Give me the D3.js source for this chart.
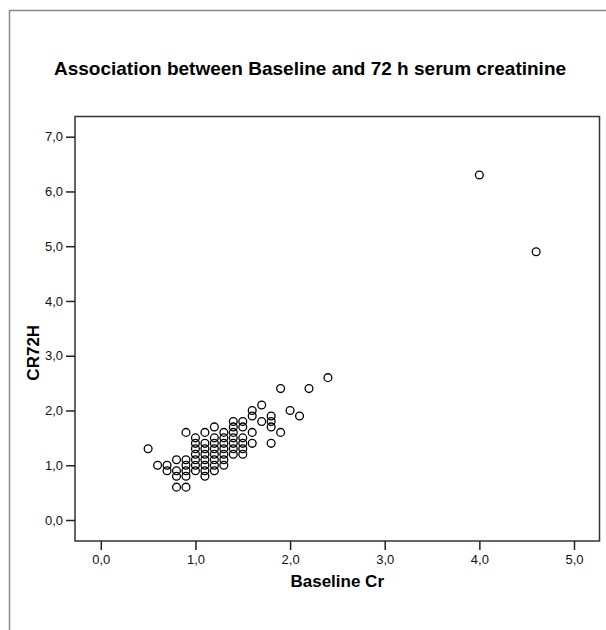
<!DOCTYPE html>
<html>
<head>
<meta charset="utf-8">
<script src="https://cdn.jsdelivr.net/npm/d3@7"></script>
<style>
  html, body { margin: 0; padding: 0; background: #fff; }
  svg { display: block; }
  text { font-family: "Liberation Sans", Arial, sans-serif; }
</style>
</head>
<body>
<svg id="chart" width="606" height="630"></svg>
<script>
// ---- Data ----
const title = "Association between Baseline and 72 h serum creatinine";
const xLabel = "Baseline Cr";
const yLabel = "CR72H";
const xTicks = [0, 1, 2, 3, 4, 5];
const yTicks = [0, 1, 2, 3, 4, 5, 6, 7];

// Baseline Cr values and matching 72 h creatinine values
const baselineCr = [
  0.5,
  0.6,
  0.7, 0.7,
  0.8, 0.8, 0.8, 0.8,
  0.9, 0.9, 0.9, 0.9, 0.9, 0.9,
  1.0, 1.0, 1.0, 1.0, 1.0, 1.0, 1.0,
  1.1, 1.1, 1.1, 1.1, 1.1, 1.1, 1.1, 1.1,
  1.2, 1.2, 1.2, 1.2, 1.2, 1.2, 1.2, 1.2,
  1.3, 1.3, 1.3, 1.3, 1.3, 1.3, 1.3,
  1.4, 1.4, 1.4, 1.4, 1.4, 1.4, 1.4,
  1.5, 1.5, 1.5, 1.5, 1.5, 1.5,
  1.6, 1.6, 1.6, 1.6,
  1.7, 1.7,
  1.8, 1.8, 1.8, 1.8,
  1.9, 1.9,
  2.0,
  2.1,
  2.2,
  2.4,
  4.0,
  4.6
];
const cr72h = [
  1.3,
  1.0,
  1.0, 0.9,
  1.1, 0.9, 0.8, 0.6,
  1.6, 1.1, 1.0, 0.9, 0.8, 0.6,
  1.5, 1.4, 1.3, 1.2, 1.1, 1.0, 0.9,
  1.6, 1.4, 1.3, 1.2, 1.1, 1.0, 0.9, 0.8,
  1.7, 1.5, 1.4, 1.3, 1.2, 1.1, 1.0, 0.9,
  1.6, 1.5, 1.4, 1.3, 1.2, 1.1, 1.0,
  1.8, 1.7, 1.6, 1.5, 1.4, 1.3, 1.2,
  1.8, 1.7, 1.5, 1.4, 1.3, 1.2,
  2.0, 1.9, 1.6, 1.4,
  2.1, 1.8,
  1.9, 1.8, 1.7, 1.4,
  2.4, 1.6,
  2.0,
  1.9,
  2.4,
  2.6,
  6.3,
  4.9
];

// ---- Layout ----
const box = { left: 75, right: 599.5, top: 116.5, bottom: 541 };
const svg = d3.select("#chart");

const locale = d3.formatLocale({ decimal: ",", thousands: ".", grouping: [3], currency: ["", ""] });
const fmt = locale.format(".1f");

const x = d3.scaleLinear().domain([0, 5]).range([100.8, 574]);
const y = d3.scaleLinear().domain([0, 7]).range([520, 136.7]);

// Outer frame (gray, left and top edges)
svg.append("path")
  .attr("d", "M9.5,630 L9.5,10.5 L606,10.5")
  .attr("fill", "none")
  .attr("stroke", "#8a8a8a")
  .attr("stroke-width", 1.5);

// Title
svg.append("text")
  .attr("x", 310)
  .attr("y", 75)
  .attr("text-anchor", "middle")
  .attr("font-size", 19)
  .attr("font-weight", "bold")
  .attr("fill", "#000")
  .text(title);

// Plot box
svg.append("rect")
  .attr("x", box.left)
  .attr("y", box.top)
  .attr("width", box.right - box.left)
  .attr("height", box.bottom - box.top)
  .attr("fill", "none")
  .attr("stroke", "#333")
  .attr("stroke-width", 1.5);

// Axes
const xAxis = d3.axisBottom(x).tickValues(xTicks).tickFormat(fmt).tickSize(9).tickPadding(5);
const yAxis = d3.axisLeft(y).tickValues(yTicks).tickFormat(fmt).tickSize(9).tickPadding(3);

const gx = svg.append("g").attr("transform", `translate(0,${box.bottom})`).call(xAxis);
const gy = svg.append("g").attr("transform", `translate(${box.left},0)`).call(yAxis);
[gx, gy].forEach(g => {
  g.select(".domain").remove();
  g.selectAll(".tick line").attr("stroke", "#222").attr("stroke-width", 1.5);
  g.selectAll(".tick text")
    .attr("font-family", "'Liberation Sans', Arial, sans-serif")
    .attr("font-size", 13)
    .attr("fill", "#111");
});

// Axis titles
svg.append("text")
  .attr("x", (box.left + box.right) / 2)
  .attr("y", 587)
  .attr("text-anchor", "middle")
  .attr("font-size", 17)
  .attr("font-weight", "bold")
  .text(xLabel);

svg.append("text")
  .attr("transform", `translate(39,${(box.top + box.bottom) / 2 + 24}) rotate(-90)`)
  .attr("text-anchor", "middle")
  .attr("font-size", 17)
  .attr("font-weight", "bold")
  .text(yLabel);

// Points
const points = baselineCr.map((v, i) => ({ x: v, y: cr72h[i] }));
svg.append("g")
  .selectAll("circle")
  .data(points)
  .join("circle")
  .attr("cx", d => x(d.x))
  .attr("cy", d => y(d.y))
  .attr("r", 3.9)
  .attr("fill", "none")
  .attr("stroke", "#000")
  .attr("stroke-width", 1.3);
</script>
</body>
</html>
